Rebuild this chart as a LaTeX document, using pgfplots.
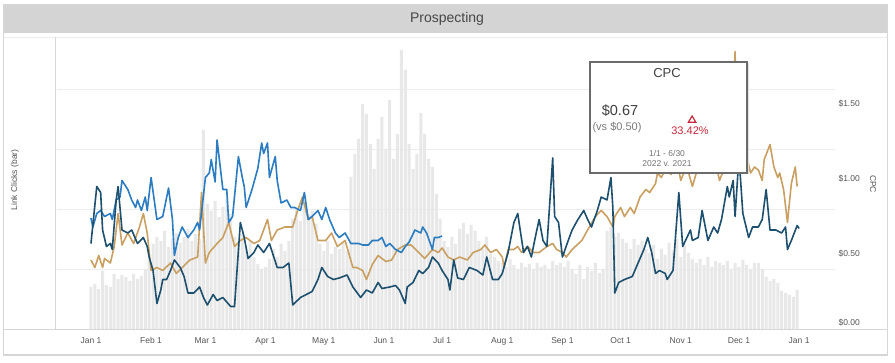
\documentclass[border=0pt]{standalone}
\usepackage{fontspec}
\setmainfont{Liberation Sans}
\usepackage{pgfplots}
\pgfplotsset{compat=1.18}
\usepackage{pgfplotstable}

\definecolor{darkline}{HTML}{1D4F6E}
\definecolor{blueline}{HTML}{2B7CC1}
\definecolor{tanline}{HTML}{C9A062}
\definecolor{barc}{HTML}{E8E8E8}
\definecolor{gridc}{HTML}{EDEDED}
\definecolor{framec}{HTML}{D6D6D6}
\definecolor{titlec}{HTML}{D4D4D4}
\definecolor{textc}{HTML}{555555}
\definecolor{redc}{HTML}{C8283C}

% Link clicks per day (bars)
\pgfplotstableread{
day clicks
0 420
2 450
4 400
6 580
8 440
10 420
12 550
14 500
16 540
18 520
20 480
22 550
24 500
26 530
28 600
30 720
32 850
34 920
36 880
38 980
40 820
42 900
44 960
46 860
48 920
50 1000
52 880
54 950
56 900
58 1990
60 1250
62 1180
64 1280
66 1120
68 1220
70 1300
72 1150
74 920
76 850
78 950
80 800
82 880
84 720
86 650
88 600
90 620
92 700
94 800
96 720
98 850
100 780
102 880
104 1100
106 1200
108 1080
110 1250
112 1150
114 1180
116 1050
118 850
120 780
122 880
124 750
126 820
128 800
130 860
132 780
134 1520
136 1750
138 1900
140 2250
142 2150
144 1850
146 1600
148 1900
150 2120
152 1800
154 2290
156 1700
158 1950
160 2790
162 2590
164 1850
166 1600
168 1750
170 2160
172 1950
174 1700
176 1620
178 1350
180 1100
182 880
184 820
186 920
188 850
190 1000
192 1060
194 950
196 1040
198 980
200 880
202 800
204 920
206 750
208 720
210 680
212 660
214 620
216 700
218 640
220 600
222 660
224 620
226 650
228 600
230 660
232 620
234 640
236 600
238 680
240 640
242 660
244 620
246 680
248 600
250 550
252 640
254 500
256 620
258 580
260 660
262 560
264 600
266 980
268 1020
270 920
272 960
274 900
276 860
278 800
280 900
282 840
284 880
286 800
288 760
290 840
292 700
294 800
296 740
298 860
300 780
302 900
304 720
306 840
308 760
310 700
312 660
314 700
316 640
318 720
320 620
322 680
324 660
326 640
328 680
330 600
332 660
334 620
336 690
338 640
340 600
342 660
344 660
346 600
348 520
350 480
352 500
354 460
356 380
358 360
360 340
362 320
364 390
}\barsdata

% CPC, dark series (full year)
\pgfplotstableread{
day cpc
0 0.57
3 0.95
5 0.91
6 0.66
8 0.55
10 0.57
11 0.53
13 0.86
14 0.95
16 0.66
19 0.64
21 0.66
24 0.57
27 0.61
29 0.55
30 0.48
32 0.39
34 0.17
36 0.26
37 0.33
39 0.33
41 0.39
43 0.46
46 0.41
48 0.35
50 0.24
53 0.24
56 0.28
58 0.21
60 0.16
63 0.23
65 0.19
68 0.21
72 0.15
74 0.15
77 0.71
79 0.61
81 0.47
84 0.51
86 0.56
89 0.51
92 0.57
96 0.41
99 0.41
102 0.44
104 0.16
108 0.21
111 0.23
114 0.25
117 0.33
119 0.41
122 0.35
125 0.33
128 0.34
132 0.36
135 0.28
139 0.21
142 0.26
145 0.24
148 0.31
150 0.27
154 0.28
157 0.29
159 0.26
162 0.17
163 0.28
166 0.31
169 0.39
171 0.37
174 0.41
176 0.48
179 0.44
181 0.39
184 0.33
185 0.26
187 0.46
189 0.34
192 0.33
195 0.41
199 0.39
202 0.36
204 0.48
207 0.33
210 0.33
212 0.37
215 0.51
218 0.71
220 0.77
221 0.68
223 0.51
225 0.55
227 0.48
229 0.61
231 0.73
233 0.59
235 0.55
238 1.14
239 0.75
241 0.71
243 0.48
246 0.59
248 0.66
251 0.73
254 0.79
256 0.73
258 0.68
261 0.79
263 0.88
266 0.86
268 1.01
269 0.81
270 0.24
272 0.31
275 0.33
279 0.35
282 0.44
285 0.53
287 0.61
289 0.51
291 0.37
293 0.39
296 0.37
297 0.33
300 0.39
303 0.91
305 0.55
309 0.66
310 0.59
313 0.61
315 0.79
318 0.59
321 0.68
323 0.64
325 0.73
328 0.95
329 0.88
331 0.99
332 0.75
334 1.15
336 0.77
339 0.61
341 0.68
344 0.68
346 0.73
348 0.93
350 0.66
353 0.66
356 0.64
358 0.68
359 0.53
361 0.59
364 0.69
365 0.67
}\darkdata

% CPC, tan series (full year)
\pgfplotstableread{
day cpc
0 0.46
2 0.41
4 0.49
6 0.41
7 0.47
10 0.44
12 0.55
14 0.77
16 0.56
19 0.64
22 0.57
25 0.68
27 0.77
29 0.64
31 0.39
34 0.41
37 0.39
41 0.44
44 0.37
47 0.41
51 0.46
55 0.48
57 0.91
59 0.44
61 0.51
65 0.57
68 0.61
71 0.71
74 0.55
77 0.59
80 0.61
84 0.57
87 0.59
91 0.73
93 0.59
96 0.66
100 0.68
104 0.68
106 0.77
109 0.88
112 0.73
114 0.75
117 0.59
121 0.59
124 0.64
127 0.55
131 0.59
135 0.41
137 0.41
140 0.39
142 0.33
145 0.43
148 0.49
152 0.45
155 0.46
158 0.53
162 0.56
165 0.56
169 0.51
172 0.47
176 0.53
179 0.51
181 0.54
184 0.48
187 0.46
190 0.48
194 0.46
197 0.51
201 0.53
203 0.56
206 0.51
209 0.53
212 0.48
213 0.41
215 0.53
218 0.53
220 0.55
222 0.51
225 0.55
228 0.51
231 0.51
235 0.55
238 0.57
240 0.53
243 0.51
245 0.48
248 0.53
253 0.59
256 0.66
260 0.75
263 0.79
266 0.75
269 0.68
270 0.75
273 0.81
275 0.75
278 0.81
280 0.77
283 0.88
286 0.93
288 0.91
291 0.97
292 1.04
294 1.01
297 1.09
299 1.03
302 1.13
304 0.99
307 1.09
310 0.95
314 1.13
318 1.06
321 1.16
324 0.99
327 1.09
330 1.19
332 1.85
333 1.13
336 1.19
338 1.15
340 1.04
342 1.08
344 1.06
346 0.99
347 1.13
350 1.23
352 1.08
354 1.01
355 1.04
357 0.93
359 0.71
361 0.97
363 1.08
364 0.95
}\tandata

% CPC, blue series (Jan - Jun)
\pgfplotstableread{
day cpc
0 0.74
1 0.68
3 0.77
5 0.79
7 0.75
10 0.77
11 0.73
13 0.86
15 0.88
16 0.99
19 0.93
21 0.86
23 0.81
24 0.86
26 0.79
28 0.88
29 0.79
31 1.01
34 0.73
37 0.75
40 0.94
42 0.73
43 0.49
45 0.61
47 0.68
50 0.61
53 0.66
55 0.71
56 0.66
59 1.01
61 1.04
62 1.13
64 0.98
65 1.26
68 0.93
70 0.93
71 0.71
73 0.75
76 1.15
78 1.01
79 0.95
80 0.81
83 0.93
86 1.07
88 1.24
89 1.17
91 1.24
92 1.01
95 1.15
96 0.99
98 0.84
101 0.86
103 0.81
105 0.81
108 0.79
110 0.91
112 0.73
114 0.75
117 0.79
119 0.73
121 0.81
123 0.73
126 0.64
128 0.61
131 0.64
134 0.57
136 0.57
138 0.57
140 0.56
143 0.56
145 0.59
148 0.59
150 0.61
152 0.55
154 0.57
157 0.53
160 0.51
162 0.55
164 0.58
167 0.66
170 0.64
171 0.68
173 0.64
176 0.53
177 0.61
179 0.61
181 0.62
}\bluedata

\begin{document}
\begin{tikzpicture}[x=1pt,y=1pt]
\useasboundingbox (0,0) rectangle (895,363);
\fill[white] (0,0) rectangle (895,363);
% outer frame and title bar
\draw[framec, line width=1.5pt, fill=white] (3.5,8) rectangle (887.5,358.5);
\fill[titlec] (4.3,330) rectangle (886.7,357.7);
\node[text=black!72, font=\fontsize{14}{16}\selectfont] at (447,344) {Prospecting};
\draw[gridc, line width=0.8pt] (4.3,326) -- (886.7,326);
\draw[framec, line width=0.8pt] (55,326) -- (55,34);
\draw[framec, line width=0.8pt] (4.3,34) -- (886.7,34);
\node[rotate=90, text=textc, font=\fontsize{8.5}{10}\selectfont] at (15,183) {Link Clicks (bar)};
\node[rotate=-90, text=textc, font=\fontsize{8.5}{10}\selectfont] at (873,179) {CPC};

\begin{axis}[
  at={(57pt,34pt)}, anchor=south west, scale only axis,
  width=778pt, height=292pt,
  xmin=-17.5, xmax=383.5, ymin=0, ymax=2920,
  axis line style={draw=none},
  major tick length=0pt,
  xtick={0,31,59,90,120,151,181,212,243,273,304,334,365},
  xticklabels={Jan 1,Feb 1,Mar 1,Apr 1,May 1,Jun 1,Jul 1,Aug 1,Sep 1,Oct 1,Nov 1,Dec 1,Jan 1},
  xticklabel style={font=\fontsize{8.5}{10}\selectfont, text=textc, yshift=-5pt},
  ytick={600,1200,1800,2400}, yticklabels={},
  ymajorgrids, grid style={gridc, line width=0.8pt},
]
\addplot[ybar, bar width=3pt, fill=barc, draw=none] table[x=day,y=clicks]{\barsdata};
\end{axis}

\begin{axis}[
  at={(57pt,34pt)}, anchor=south west, scale only axis,
  width=778pt, height=292pt,
  xmin=-17.5, xmax=383.5, ymin=0, ymax=1.9467,
  hide x axis, axis y line*=right, axis line style={draw=none},
  major tick length=0pt,
  ytick={0.04,0.5,1,1.5}, yticklabels={\$0.00,\$0.50,\$1.00,\$1.50},
  yticklabel style={font=\fontsize{8.5}{10}\selectfont, text=textc},
]
\addplot[tanline, line width=1.6pt, line join=round] table[x=day,y=cpc]{\tandata};
\addplot[blueline, line width=1.6pt, line join=round] table[x=day,y=cpc]{\bluedata};
\addplot[darkline, line width=1.6pt, line join=round] table[x=day,y=cpc]{\darkdata};
\end{axis}

% summary box
\fill[black!12] (591.5,188.5) rectangle (748.5,299.5);
\draw[black!58, line width=1.3pt, fill=white] (590,190) rectangle (747,301);
\node[text=black!75, font=\fontsize{13}{15}\selectfont] at (667,289.5) {CPC};
\node[text=black!75, font=\fontsize{14.5}{17}\selectfont] at (620,252) {\$0.67};
\node[text=black!52, font=\fontsize{11}{13}\selectfont] at (617,235) {(vs \$0.50)};
\draw[redc, line width=1.2pt, line join=miter] (688.4,240.8) -- (695.8,240.8) -- (692.1,247) -- cycle;
\node[text=redc, font=\fontsize{11}{13}\selectfont] at (690,232) {33.42\%};
\node[text=black!55, font=\fontsize{8.5}{10}\selectfont] at (667,210) {1/1 - 6/30};
\node[text=black!55, font=\fontsize{8.5}{10}\selectfont] at (667,199) {2022 v. 2021};
\end{tikzpicture}
\end{document}
